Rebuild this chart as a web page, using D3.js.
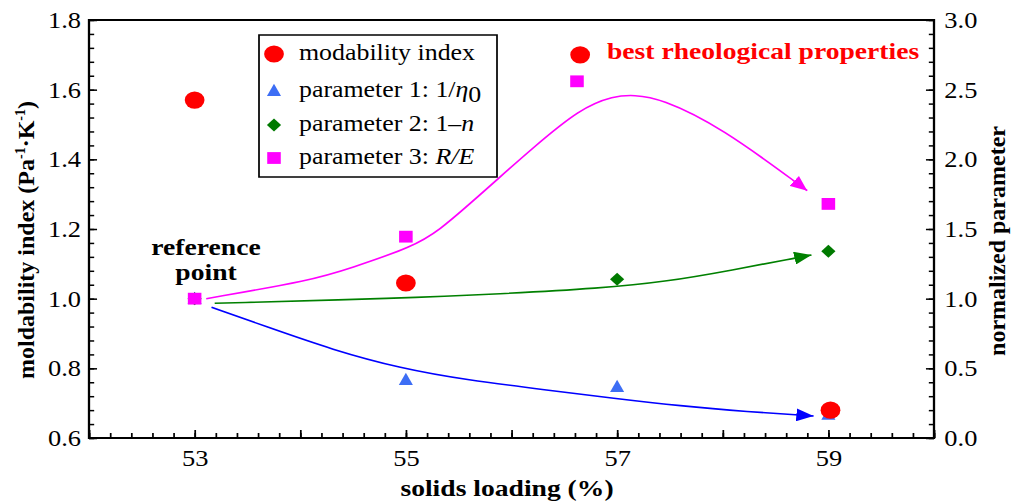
<!DOCTYPE html>
<html>
<head>
<meta charset="utf-8">
<script src="https://cdn.jsdelivr.net/npm/d3@7"></script>
<style>
  body { margin: 0; background: #fff; }
</style>
</head>
<body>
<svg id="chart" width="1011" height="502"></svg>
<script>
// ---- data ----
// moldability index (left axis)
const moldLoading = [53, 55, 56.65, 59.02];
const moldability = [1.57, 1.045, 1.70, 0.68];
// parameter 1: 1/eta0 (right axis, normalized)
const p1Loading = [53, 55, 57, 59];
const param1 = [1.0, 0.42, 0.37, 0.17];
// parameter 2: 1-n
const p2Loading = [53, 55, 57, 59];
const param2 = [1.0, 1.11, 1.14, 1.34];
// parameter 3: R/E
const p3Loading = [53, 55, 56.62, 59];
const param3 = [1.0, 1.445, 2.56, 1.68];

// hand-drawn trend arrows, [loading, normalized parameter]
const trend1 = [[53.16, 0.938], [53.68, 0.799], [54.31, 0.632], [54.95, 0.50], [55.58, 0.416],
                [56.33, 0.345], [56.97, 0.285], [57.60, 0.230], [58.23, 0.189], [58.86, 0.158]];
const trend2 = [[53.19, 0.967], [54.95, 1.003], [55.89, 1.034], [56.84, 1.074], [57.47, 1.122],
                [58.10, 1.206], [58.67, 1.290], [58.84, 1.313]];
const trend3 = [[53.11, 1.0], [54.12, 1.134], [54.47, 1.218], [55.07, 1.373], [55.32, 1.493],
                [55.61, 1.684], [55.86, 1.852], [56.18, 2.067], [56.65, 2.366], [56.97, 2.455],
                [57.16, 2.462], [57.41, 2.438], [57.98, 2.234], [58.80, 1.775]];

// axis ticks
const xTickLabels = [53, 55, 57, 59];
const leftTicks = [0.6, 0.8, 1.0, 1.2, 1.4, 1.6, 1.8];
const rightTicks = [0, 0.5, 1.0, 1.5, 2.0, 2.5, 3.0];

// ---- layout ----
const S = 1.15;               // the original figure is stretched sideways
const L = 89, R = 934, T = 20, B = 438;
const serif = '"Liberation Serif","Times New Roman",serif';

const svg = d3.select('#chart').attr('font-family', serif);

const defs = svg.append('defs');
[['blue', '#0000ff'], ['green', '#008000'], ['magenta', '#ff00ff']].forEach(([id, c]) => {
  defs.append('marker')
    .attr('id', 'arrow-' + id)
    .attr('viewBox', '0 0 15 13')
    .attr('refX', 15).attr('refY', 6.5)
    .attr('markerWidth', 15).attr('markerHeight', 13)
    .attr('markerUnits', 'userSpaceOnUse')
    .attr('orient', 'auto')
    .append('path').attr('d', 'M0,0L15,6.5L0,13Z').attr('fill', c);
});

const plot = svg.append('g').attr('transform', `scale(${S},1)`);

const x = d3.scaleLinear().domain([52, 60]).range([L / S, R / S]);
const yL = d3.scaleLinear().domain([0.6, 1.8]).range([B, T]);
const yR = d3.scaleLinear().domain([0, 3]).range([B, T]);

function styleAxis(sel) {
  sel.select('.domain').remove();
  sel.attr('font-family', serif).attr('font-size', 23);
  sel.selectAll('line').attr('stroke', '#000').attr('stroke-width', 1.5);
  sel.selectAll('text').attr('fill', '#000');
}

// bottom axis: minor every 0.2, major every 1, labels on odd values
const xMinor = d3.range(0, 41).map(i => 52 + i * 0.2);
const xMajor = d3.range(52, 61);
plot.append('g').attr('transform', `translate(0,${B})`)
  .call(d3.axisBottom(x).tickValues(xMinor).tickSize(-5).tickFormat(''))
  .call(styleAxis);
plot.append('g').attr('transform', `translate(0,${B})`)
  .call(d3.axisBottom(x).tickValues(xMajor).tickSize(-8).tickPadding(12)
    .tickFormat(d => xTickLabels.includes(d) ? d : ''))
  .call(styleAxis);

// left axis
const leftMinor = d3.range(0, 31).map(i => 0.6 + i * 0.04);
plot.append('g').attr('transform', `translate(${L / S},0)`)
  .call(d3.axisLeft(yL).tickValues(leftMinor).tickSize(-4.5).tickFormat(''))
  .call(styleAxis);
plot.append('g').attr('transform', `translate(${L / S},0)`)
  .call(d3.axisLeft(yL).tickValues(leftTicks).tickSize(-7).tickPadding(7).tickFormat(d3.format('.1f')))
  .call(styleAxis);

// right axis
const rightMinor = d3.range(0, 31).map(i => i * 0.1);
plot.append('g').attr('transform', `translate(${R / S},0)`)
  .call(d3.axisRight(yR).tickValues(rightMinor).tickSize(-4.5).tickFormat(''))
  .call(styleAxis);
plot.append('g').attr('transform', `translate(${R / S},0)`)
  .call(d3.axisRight(yR).tickValues(rightTicks).tickSize(-7).tickPadding(9).tickFormat(d3.format('.1f')))
  .call(styleAxis);

// frame
plot.append('rect')
  .attr('x', L / S).attr('y', T).attr('width', (R - L) / S).attr('height', B - T)
  .attr('fill', 'none').attr('stroke', '#000').attr('stroke-width', 2);

// trend curves
const trendLine = d3.line().x(d => x(d[0])).y(d => yR(d[1])).curve(d3.curveBasis);
[[trend1, 'blue', '#0000ff'], [trend2, 'green', '#008000'], [trend3, 'magenta', '#ff00ff']].forEach(([pts, id, c]) => {
  plot.append('path').datum(pts)
    .attr('d', trendLine)
    .attr('fill', 'none').attr('stroke', c).attr('stroke-width', 1.6)
    .attr('marker-end', `url(#arrow-${id})`);
});

// symbol shapes
const triangle = { draw(ctx, r) { ctx.moveTo(0, -r); ctx.lineTo(r * 0.9, r * 0.8); ctx.lineTo(-r * 0.9, r * 0.8); ctx.closePath(); } };
const diamond = { draw(ctx, r) { ctx.moveTo(0, -r); ctx.lineTo(r * 0.95, 0); ctx.lineTo(0, r); ctx.lineTo(-r * 0.95, 0); ctx.closePath(); } };
const square = { draw(ctx, r) { ctx.rect(-r, -r, 2 * r, 2 * r); } };

function drawSymbols(xs, ys, yScale, type, size, color) {
  plot.append('g').selectAll('path').data(d3.zip(xs, ys)).join('path')
    .attr('transform', d => `translate(${x(d[0])},${yScale(d[1])})`)
    .attr('d', d3.symbol(type, size))
    .attr('fill', color);
}
drawSymbols(p1Loading, param1, yR, triangle, 6.8, '#3d6ef5');
drawSymbols(p2Loading, param2, yR, diamond, 6.5, '#007a00');
drawSymbols(p3Loading, param3, yR, square, 5.9, '#ff00ff');
plot.append('g').selectAll('circle').data(d3.zip(moldLoading, moldability)).join('circle')
  .attr('cx', d => x(d[0])).attr('cy', d => yL(d[1])).attr('r', 8.6)
  .attr('fill', '#ff0000');

// legend
const lg = plot.append('g');
lg.append('rect')
  .attr('x', 259 / S).attr('y', 35).attr('width', (497 - 259) / S).attr('height', 142)
  .attr('fill', '#fff').attr('stroke', '#000').attr('stroke-width', 1.5);
const rowY = [54, 90.5, 125, 158];
const mx = 274 / S, tx = 299 / S;
lg.append('circle').attr('cx', mx).attr('cy', rowY[0]).attr('r', 8.6).attr('fill', '#ff0000');
lg.append('path').attr('transform', `translate(${mx},${rowY[1]})`).attr('d', d3.symbol(triangle, 6.8)).attr('fill', '#3d6ef5');
lg.append('path').attr('transform', `translate(${mx},${rowY[2]})`).attr('d', d3.symbol(diamond, 6.5)).attr('fill', '#007a00');
lg.append('path').attr('transform', `translate(${mx},${rowY[3]})`).attr('d', d3.symbol(square, 5.9)).attr('fill', '#ff00ff');

function legendText(i) {
  return lg.append('text').attr('x', tx).attr('y', rowY[i] + 6.5).attr('font-size', 22.5).attr('fill', '#000');
}
legendText(0).text('modability index');
const t1 = legendText(1);
t1.append('tspan').text('parameter 1: 1/');
t1.append('tspan').attr('font-style', 'italic').text('η');
t1.append('tspan').attr('dy', 5).text('0');
const t2 = legendText(2);
t2.append('tspan').text('parameter 2: 1–');
t2.append('tspan').attr('font-style', 'italic').text('n');
const t3 = legendText(3);
t3.append('tspan').text('parameter 3: ');
t3.append('tspan').attr('font-style', 'italic').text('R/E');

// annotations
plot.append('text')
  .attr('x', 607 / S).attr('y', 59)
  .attr('font-size', 24).attr('font-weight', 'bold').attr('fill', '#ff0000')
  .text('best rheological properties');
const ref = plot.append('text')
  .attr('text-anchor', 'middle').attr('font-size', 24).attr('font-weight', 'bold').attr('fill', '#000');
ref.append('tspan').attr('x', 206 / S).attr('y', 255).text('reference');
ref.append('tspan').attr('x', 206 / S).attr('y', 280).text('point');

// axis titles
plot.append('text')
  .attr('x', 507 / S).attr('y', 496)
  .attr('text-anchor', 'middle').attr('font-size', 24).attr('font-weight', 'bold')
  .text('solids loading (%)');

const yt = svg.append('text')
  .attr('transform', 'translate(34,240) rotate(-90)')
  .attr('text-anchor', 'middle').attr('font-size', 24).attr('font-weight', 'bold');
yt.append('tspan').text('moldability index (Pa');
yt.append('tspan').attr('font-size', 14).attr('dy', -9).text('-1');
yt.append('tspan').attr('dy', 9).text('·K');
yt.append('tspan').attr('font-size', 14).attr('dy', -9).text('-1');
yt.append('tspan').attr('dy', 9).text(')');

svg.append('text')
  .attr('transform', 'translate(1005,241) rotate(-90)')
  .attr('text-anchor', 'middle').attr('font-size', 24).attr('font-weight', 'bold')
  .text('normalized parameter');
</script>
</body>
</html>
